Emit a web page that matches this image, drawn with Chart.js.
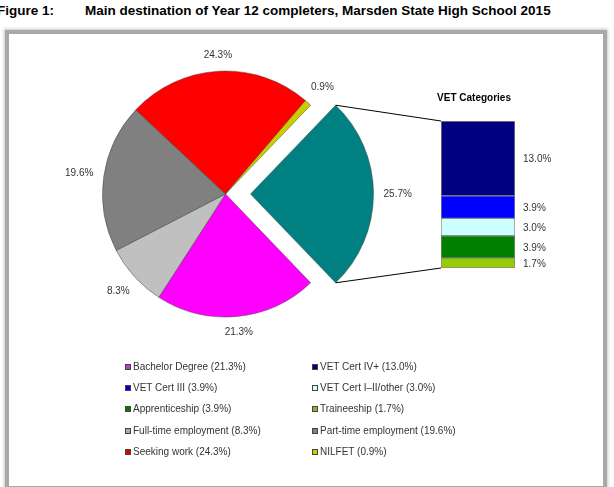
<!DOCTYPE html>
<html><head><meta charset="utf-8">
<script src="https://cdn.jsdelivr.net/npm/chart.js@4/dist/chart.umd.min.js"></script>
<style>
html,body{margin:0;padding:0;background:#fff;}
body{width:614px;height:487px;position:relative;overflow:hidden;font-family:"Liberation Sans",Arial,sans-serif;}
#frame{position:absolute;left:5px;top:30px;width:602px;height:460px;box-sizing:border-box;border:4px solid #a8a8a8;box-shadow:0 0 3px 1px #c8c8c8;background:#fff;}
#title{position:absolute;top:3px;left:0;font-weight:bold;font-size:13.5px;color:#000;white-space:nowrap;line-height:15px;}
#title .fig{position:absolute;left:-3px;top:0;}
#title .main{position:absolute;left:85px;top:0;}
canvas{position:absolute;left:0;top:0;}
.li{position:absolute;font-size:10px;color:#333;white-space:nowrap;line-height:12px;}
.li i{position:absolute;left:0;top:3px;width:4px;height:4px;border:1px solid #444;}
.li span{position:absolute;left:8px;top:0;}
</style></head>
<body>
<div id="frame"></div>
<div id="title"><span class="fig">Figure 1:</span><span class="main">Main destination of Year 12 completers, Marsden State High School 2015</span></div>
<canvas id="bar" width="614" height="487"></canvas>
<canvas id="pie" width="614" height="487"></canvas>
<div id="legend"></div>
<script>
// ---- data ----
const pieLabels = ['VET', 'Bachelor Degree', 'Full-time employment', 'Part-time employment', 'Seeking work', 'NILFET'];
const pieValues = [25.7, 21.3, 8.3, 19.6, 24.3, 0.9];
const vetLabels = ['Traineeship', 'Apprenticeship', 'VET Cert I\u2013II/other', 'VET Cert III', 'VET Cert IV+'];
const vetValues = [1.7, 3.9, 3.0, 3.9, 13.0];
const legendOrder = ['Bachelor Degree', 'VET Cert IV+', 'VET Cert III', 'VET Cert I\u2013II/other', 'Apprenticeship', 'Traineeship', 'Full-time employment', 'Part-time employment', 'Seeking work', 'NILFET'];

// ---- styles ----
const pieColors = ['#008080', '#FF00FF', '#C0C0C0', '#808080', '#FF0000', '#CCCC00'];
const vetColors = ['#99CC00', '#008000', '#CCFFFF', '#0000FF', '#000080'];
const legendColors = {
  'Bachelor Degree': '#CC33CC', 'VET Cert IV+': '#000080', 'VET Cert III': '#0000CC', 'VET Cert I\u2013II/other': '#CCFFFF',
  'Apprenticeship': '#008000', 'Traineeship': '#99AA33', 'Full-time employment': '#AAAAAA', 'Part-time employment': '#808080',
  'Seeking work': '#DD0000', 'NILFET': '#CCCC00'
};
const FONT = '"Liberation Sans", Arial, sans-serif';

// ---- legend (HTML) ----
const valueOf = {};
pieLabels.forEach((l, i) => valueOf[l] = pieValues[i]);
vetLabels.forEach((l, i) => valueOf[l] = vetValues[i]);
const legendEl = document.getElementById('legend');
legendOrder.forEach((name, i) => {
  const col = i % 2, row = Math.floor(i / 2);
  const d = document.createElement('div');
  d.className = 'li';
  d.style.left = (col ? 312 : 125) + 'px';
  d.style.top = (361 + row * 21.2) + 'px';
  const m = document.createElement('i');
  m.style.background = legendColors[name];
  const s = document.createElement('span');
  s.textContent = name + ' (' + valueOf[name].toFixed(1) + '%)';
  d.appendChild(m); d.appendChild(s);
  legendEl.appendChild(d);
});

// ---- VET stacked bar ----
const vetTotal = vetValues.reduce((a, b) => a + b, 0);
const barLabelPlugin = {
  id: 'barLabels',
  afterDatasetsDraw(chart) {
    const ctx = chart.ctx;
    ctx.save();
    ctx.font = '10px ' + FONT;
    ctx.fillStyle = '#333';
    ctx.textBaseline = 'middle';
    ctx.textAlign = 'left';
    chart.data.datasets.forEach((ds, i) => {
      const el = chart.getDatasetMeta(i).data[0];
      const right = el.x + el.width / 2;
      ctx.fillText(ds.data[0].toFixed(1) + '%', right + 8, (el.y + el.base) / 2 + 1);
    });
    ctx.font = 'bold 10px ' + FONT;
    ctx.fillStyle = '#000';
    ctx.textAlign = 'center';
    const a = chart.chartArea;
    ctx.fillText('VET Categories', (a.left + a.right) / 2 - 4, a.top - 23);
    ctx.restore();
  }
};
const barChart = new Chart(document.getElementById('bar'), {
  type: 'bar',
  data: {
    labels: ['VET'],
    datasets: vetLabels.map((l, i) => ({
      label: l, data: [vetValues[i]], backgroundColor: vetColors[i],
      borderColor: '#8a8a8a', borderWidth: 1, borderSkipped: false,
      barPercentage: 1, categoryPercentage: 1
    }))
  },
  options: {
    responsive: false, animation: false,
    layout: { padding: { left: 441, right: 99, top: 121, bottom: 219 } },
    plugins: { legend: { display: false }, tooltip: { enabled: false } },
    scales: {
      x: { display: false, stacked: true },
      y: { display: false, stacked: true, min: 0, max: vetTotal }
    }
  },
  plugins: [barLabelPlugin]
});

// ---- main pie ----
const pieTotal = pieValues.reduce((a, b) => a + b, 0);
const rotationDeg = 90 - (pieValues[0] / pieTotal) * 180;
// same translation that Chart.js ArcElement applies for an offset
function arcShift(arc, off) {
  const o = (off || 0) / 4;
  const circ = arc.endAngle - arc.startAngle;
  const fix = 1 - Math.sin(Math.min(Math.PI, circ || 0));
  return o + o * fix;
}
const pieLabelPlugin = {
  id: 'pieLabels',
  afterDatasetsDraw(chart) {
    const ctx = chart.ctx;
    const meta = chart.getDatasetMeta(0);
    const offsets = chart.data.datasets[0].offset;
    ctx.save();
    ctx.font = '10px ' + FONT;
    ctx.fillStyle = '#333';
    ctx.textAlign = 'center';
    ctx.textBaseline = 'middle';
    meta.data.forEach((arc, i) => {
      const mid = (arc.startAngle + arc.endAngle) / 2;
      const c = Math.cos(mid), s = Math.sin(mid);
      const txt = pieValues[i].toFixed(1) + '%';
      const hw = ctx.measureText(txt).width / 2;
      const d = arc.outerRadius + arcShift(arc, offsets[i]) + 10 + Math.abs(c) * hw + Math.abs(s) * 5;
      ctx.fillText(txt, arc.x + c * d, arc.y + s * d);
    });
    // connector lines from exploded VET slice to the VET bar
    const vet = meta.data[0];
    const sh = arcShift(vet, offsets[0]);
    const vm = (vet.startAngle + vet.endAngle) / 2;
    const vx = vet.x + Math.cos(vm) * sh, vy = vet.y + Math.sin(vm) * sh;
    const r = vet.outerRadius;
    const p1 = [vx + Math.cos(vet.startAngle) * r, vy + Math.sin(vet.startAngle) * r];
    const p2 = [vx + Math.cos(vet.endAngle) * r, vy + Math.sin(vet.endAngle) * r];
    const nb = barChart.data.datasets.length;
    const topEl = barChart.getDatasetMeta(nb - 1).data[0];
    const botEl = barChart.getDatasetMeta(0).data[0];
    const left = topEl.x - topEl.width / 2;
    ctx.strokeStyle = '#000';
    ctx.lineWidth = 1;
    ctx.beginPath();
    ctx.moveTo(p1[0], p1[1]); ctx.lineTo(left, topEl.y);
    ctx.moveTo(p2[0], p2[1]); ctx.lineTo(left, botEl.base);
    ctx.stroke();
    ctx.restore();
  }
};
new Chart(document.getElementById('pie'), {
  type: 'pie',
  data: {
    labels: pieLabels,
    datasets: [{
      data: pieValues,
      backgroundColor: pieColors,
      borderColor: 'rgba(60,60,60,0.45)',
      borderWidth: 1,
      offset: [100, 0, 0, 0, 0, 0]
    }]
  },
  options: {
    responsive: false, animation: false,
    rotation: rotationDeg,
    radius: 123,
    layout: { padding: { left: 0, right: 163, top: 0, bottom: 99 } },
    plugins: { legend: { display: false }, tooltip: { enabled: false } }
  },
  plugins: [pieLabelPlugin]
});
</script>
</body></html>
